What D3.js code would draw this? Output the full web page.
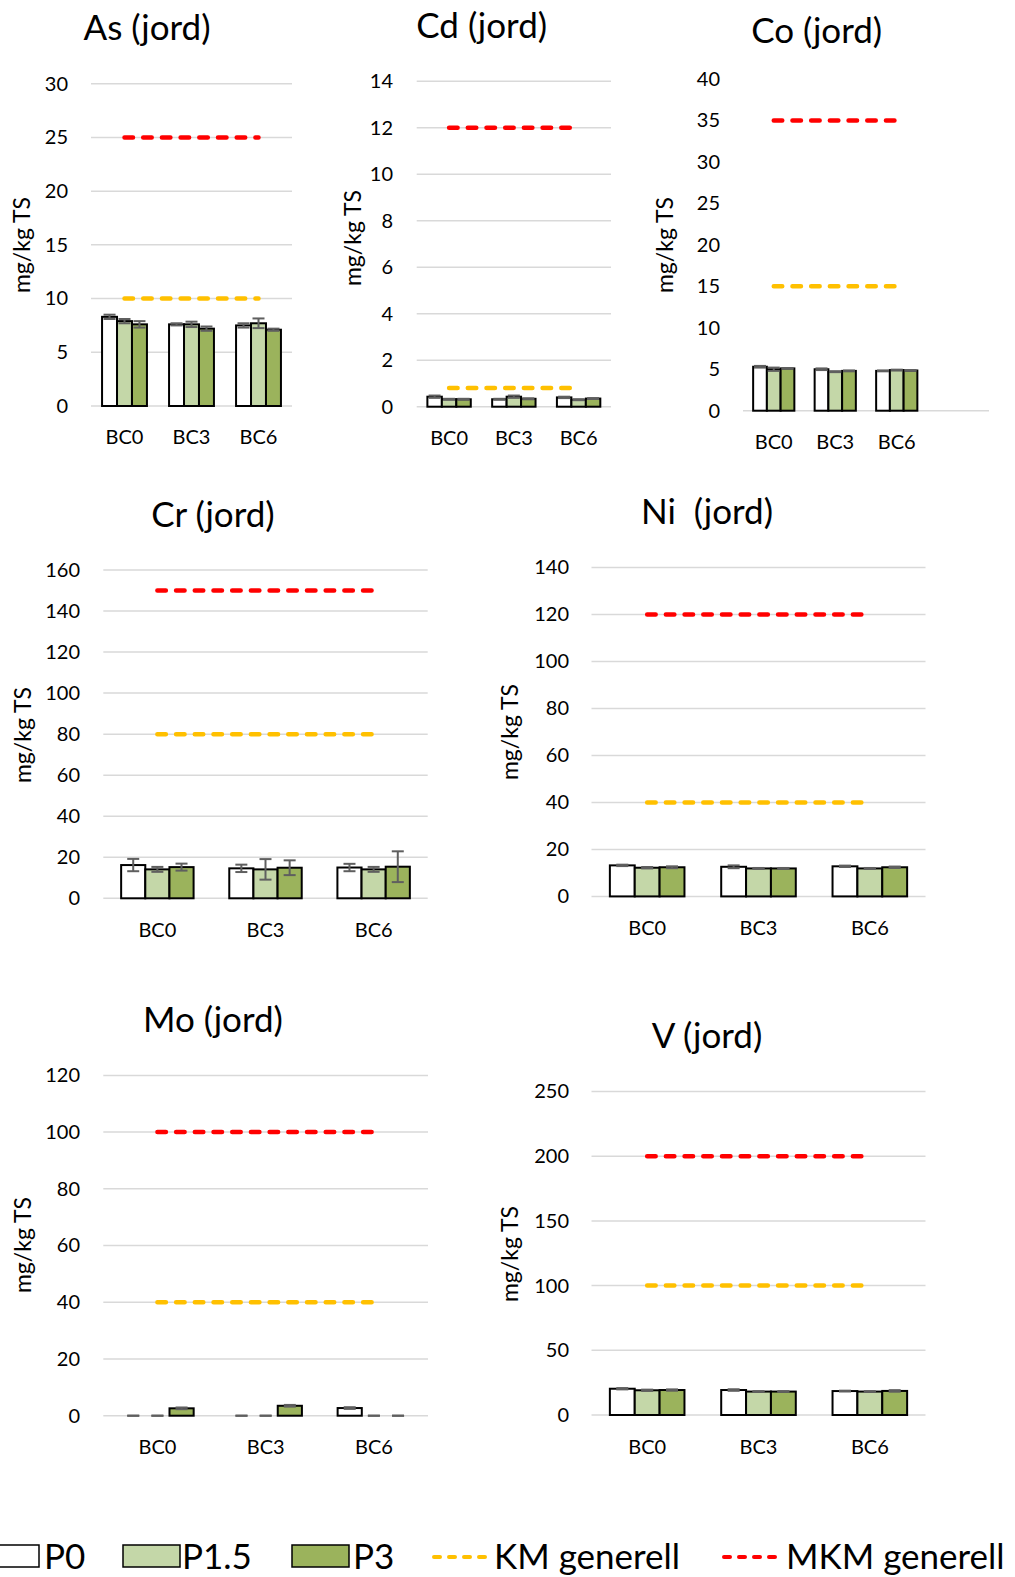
<!DOCTYPE html>
<html>
<head>
<meta charset="utf-8">
<script src="https://cdn.jsdelivr.net/npm/d3@7"></script>
<style>
body { margin: 0; background: #fff; }
svg text { font-family: Lato, "Liberation Sans", sans-serif; fill: #000; }
</style>
</head>
<body>
<div id="chart"></div>
<script>
// categories and series
const categories = ["BC0", "BC3", "BC6"];
const coCategories = ["BC0", "BC3", "BC6", ""];   // Co chart has an empty 4th slot
const seriesNames = ["P0", "P1.5", "P3"];
const titles = ["As (jord)", "Cd (jord)", "Co (jord)", "Cr (jord)", "Ni  (jord)", "Mo (jord)", "V (jord)"];
const yLabel = "mg/kg TS";

// values [category][series], mg/kg TS
const asValues = [[8.3, 7.9, 7.6], [7.6, 7.6, 7.2], [7.5, 7.7, 7.1]];
const asErrors = [[0.2, 0.2, 0.3], [0.1, 0.25, 0.2], [0.2, 0.45, 0.1]];
const cdValues = [[0.43, 0.32, 0.32], [0.32, 0.43, 0.34], [0.4, 0.3, 0.35]];
const cdErrors = [[0.05, 0.02, 0.02], [0.02, 0.05, 0.02], [0.03, 0.02, 0.02]];
const coValues = [[5.3, 5.0, 5.1], [5.0, 4.7, 4.8], [4.8, 4.9, 4.85]];
const coErrors = [[0.1, 0.2, 0.05], [0.1, 0.05, 0.05], [0.05, 0.05, 0.05]];
const crValues = [[16.2, 14.1, 15.2], [14.6, 14.1, 14.9], [15.0, 14.1, 15.4]];
const crErrors = [[3, 1.2, 1.7], [1.8, 5, 3.6], [1.8, 1.2, 7.5]];
const niValues = [[13.2, 12.2, 12.4], [12.6, 11.9, 11.9], [12.8, 11.9, 12.4]];
const niErrors = [[0.3, 0.3, 0.4], [0.6, 0.2, 0.2], [0.3, 0.2, 0.3]];
const moValues = [[0, 0, 2.6], [0, 0, 3.5], [2.7, 0, 0]];
const moErrors = [[0, 0, 0.3], [0, 0, 0.3], [0.3, 0, 0]];
const vValues = [[20.3, 19.1, 19.3], [19.3, 18.1, 18.1], [18.5, 18.1, 18.6]];
const vErrors = [[0.5, 0.5, 0.5], [0.6, 0.3, 0.3], [0.3, 0.3, 0.6]];

// guideline values
const kmLimits = [10, 0.8, 15, 80, 40, 40, 100];
const mkmLimits = [25, 12, 35, 150, 120, 100, 200];

// y axis ticks
const yMax = [30, 14, 40, 160, 140, 120, 250];
const yStep = [5, 2, 5, 20, 20, 20, 50];

const legendNames = ["P0", "P1.5", "P3", "KM generell", "MKM generell"];

const allValues = [asValues, cdValues, coValues, crValues, niValues, moValues, vValues];
const allErrors = [asErrors, cdErrors, coErrors, crErrors, niErrors, moErrors, vErrors];

const barColours = ["#ffffff", "#c4d7a8", "#9bb35c"];
const kmColour = "#ffc000";
const mkmColour = "#ff0000";

// where each small chart sits on the page
const layout = [
    {x0: 91, x1: 292, yTop: 83.7, yBot: 406, titleX: 147, titleY: 40, tickX: 68, labelX: 22, labelY: 245, catY: 444, grid: true},
    {x0: 416.7, x1: 611, yTop: 81.3, yBot: 406.7, titleX: 481.7, titleY: 38, tickX: 393, labelX: 353, labelY: 238, catY: 445, grid: true},
    {x0: 743, x1: 989, yTop: 79, yBot: 410.7, titleX: 816.7, titleY: 43, tickX: 720, labelX: 665, labelY: 245, catY: 449, grid: false},
    {x0: 103.3, x1: 427.7, yTop: 570, yBot: 898.3, titleX: 213, titleY: 526.5, tickX: 80, labelX: 23, labelY: 735, catY: 936.5, grid: true},
    {x0: 591.5, x1: 925.5, yTop: 567.4, yBot: 896.4, titleX: 707, titleY: 523.5, tickX: 569, labelX: 510, labelY: 732, catY: 934.5, grid: true},
    {x0: 103.3, x1: 428, yTop: 1075.4, yBot: 1415.7, titleX: 213, titleY: 1031.5, tickX: 80, labelX: 23, labelY: 1245, catY: 1454, grid: true},
    {x0: 591.5, x1: 925.5, yTop: 1091.5, yBot: 1415, titleX: 707, titleY: 1047.5, tickX: 569, labelX: 510, labelY: 1254, catY: 1454, grid: true}
];

const width = 1015;
const height = 1577;

var svg = d3.select("#chart")
            .append("svg")
            .attr("width", width)
            .attr("height", height);

for (let i = 0; i < titles.length; i++) {
    let L = layout[i];
    let cats = i === 2 ? coCategories : categories;
    let values = allValues[i];
    let errors = allErrors[i];
    let g = svg.append("g");

    let x0 = d3.scaleBand().domain(cats).range([L.x0, L.x1]).padding(0);
    let step = x0.bandwidth();
    let x1 = d3.scaleBand().domain(seriesNames).range([step * 0.165, step * 0.835]).padding(0);
    let y = d3.scaleLinear().domain([0, yMax[i]]).range([L.yBot, L.yTop]);
    let ticks = d3.range(0, yMax[i] + yStep[i] / 2, yStep[i]);

    // gridlines
    let gridTicks = L.grid ? ticks : [0];
    g.selectAll(".grid")
     .data(gridTicks)
     .enter()
     .append("line")
     .attr("x1", L.x0)
     .attr("x2", L.x1)
     .attr("y1", d => y(d))
     .attr("y2", d => y(d))
     .attr("stroke", "#d9d9d9")
     .attr("stroke-width", 1.5);

    // y tick labels
    let yAxis = d3.axisLeft(y).tickValues(ticks).tickSize(0).tickPadding(0);
    let ya = g.append("g")
              .attr("transform", `translate(${L.tickX},0)`)
              .call(yAxis);
    ya.select(".domain").remove();
    ya.selectAll("text")
      .attr("font-size", "20px")
      .attr("fill", "#000")
      .attr("font-family", "Lato, 'Liberation Sans', sans-serif");

    // category labels
    let xAxis = d3.axisBottom(x0).tickSize(0).tickPadding(0);
    let xa = g.append("g")
              .attr("transform", `translate(0,${L.catY})`)
              .call(xAxis);
    xa.select(".domain").remove();
    xa.selectAll("text")
      .attr("dy", 0)
      .attr("y", 0)
      .attr("font-size", "20px")
      .attr("fill", "#000")
      .attr("font-family", "Lato, 'Liberation Sans', sans-serif");

    // bars
    let rows = [];
    categories.forEach((c, ci) => {
        seriesNames.forEach((s, si) => {
            rows.push({cat: c, series: s, si: si, v: values[ci][si], e: errors[ci][si]});
        });
    });

    g.selectAll(".bar")
     .data(rows)
     .enter()
     .append("rect")
     .attr("x", d => x0(d.cat) + x1(d.series))
     .attr("y", d => y(d.v))
     .attr("width", x1.bandwidth())
     .attr("height", d => y(0) - y(d.v))
     .attr("fill", d => barColours[d.si])
     .attr("stroke", "#000")
     .attr("stroke-width", 2);

    // error bars
    let eb = g.selectAll(".err")
              .data(rows)
              .enter()
              .append("g")
              .attr("stroke", "#5f5f5f")
              .attr("stroke-width", 2);
    let cx = d => x0(d.cat) + x1(d.series) + x1.bandwidth() / 2;
    eb.append("line")
      .attr("x1", cx).attr("x2", cx)
      .attr("y1", d => y(d.v - d.e)).attr("y2", d => y(d.v + d.e));
    eb.append("line")
      .attr("x1", d => cx(d) - 6).attr("x2", d => cx(d) + 6)
      .attr("y1", d => y(d.v + d.e)).attr("y2", d => y(d.v + d.e));
    eb.append("line")
      .attr("x1", d => cx(d) - 6).attr("x2", d => cx(d) + 6)
      .attr("y1", d => y(d.v - d.e)).attr("y2", d => y(d.v - d.e));

    // KM / MKM guideline series, drawn from first to last category centre
    let xs = [x0(categories[0]) + step / 2, x0(categories[categories.length - 1]) + step / 2];
    [[kmLimits[i], kmColour], [mkmLimits[i], mkmColour]].forEach(lim => {
        g.append("line")
         .attr("x1", xs[0])
         .attr("x2", xs[1])
         .attr("y1", y(lim[0]))
         .attr("y2", y(lim[0]))
         .attr("stroke", lim[1])
         .attr("stroke-width", 4.5)
         .attr("stroke-linecap", "round")
         .attr("stroke-dasharray", "8.5 10.2");
    });

    // title
    g.append("text")
     .attr("x", L.titleX)
     .attr("y", L.titleY)
     .attr("text-anchor", "middle")
     .attr("font-size", "35px")
     .style("white-space", "pre")
     .text(titles[i]);

    // y label
    g.append("text")
     .attr("transform", `translate(${L.labelX},${L.labelY}) rotate(-90)`)
     .attr("dy", "0.35em")
     .attr("text-anchor", "middle")
     .attr("font-size", "23px")
     .text(yLabel);
}

// legend
var legend = svg.append("g");
var boxX = [-18, 123, 292];
var lineX = [432, 722];
var textX = [44, 182, 353, 494, 786];
for (let k = 0; k < 3; k++) {
    legend.append("rect")
          .attr("x", boxX[k])
          .attr("y", 1545)
          .attr("width", 57)
          .attr("height", 22)
          .attr("fill", barColours[k])
          .attr("stroke", "#000")
          .attr("stroke-width", 1.5);
}
[kmColour, mkmColour].forEach((c, k) => {
    legend.append("line")
          .attr("x1", lineX[k] + 2)
          .attr("x2", lineX[k] + 56)
          .attr("y1", 1557)
          .attr("y2", 1557)
          .attr("stroke", c)
          .attr("stroke-width", 4)
          .attr("stroke-linecap", "round")
          .attr("stroke-dasharray", "6 9");
});
legendNames.forEach((n, k) => {
    legend.append("text")
          .attr("x", textX[k])
          .attr("y", 1569)
          .attr("font-size", "35px")
          .text(n);
});
</script>
</body>
</html>
